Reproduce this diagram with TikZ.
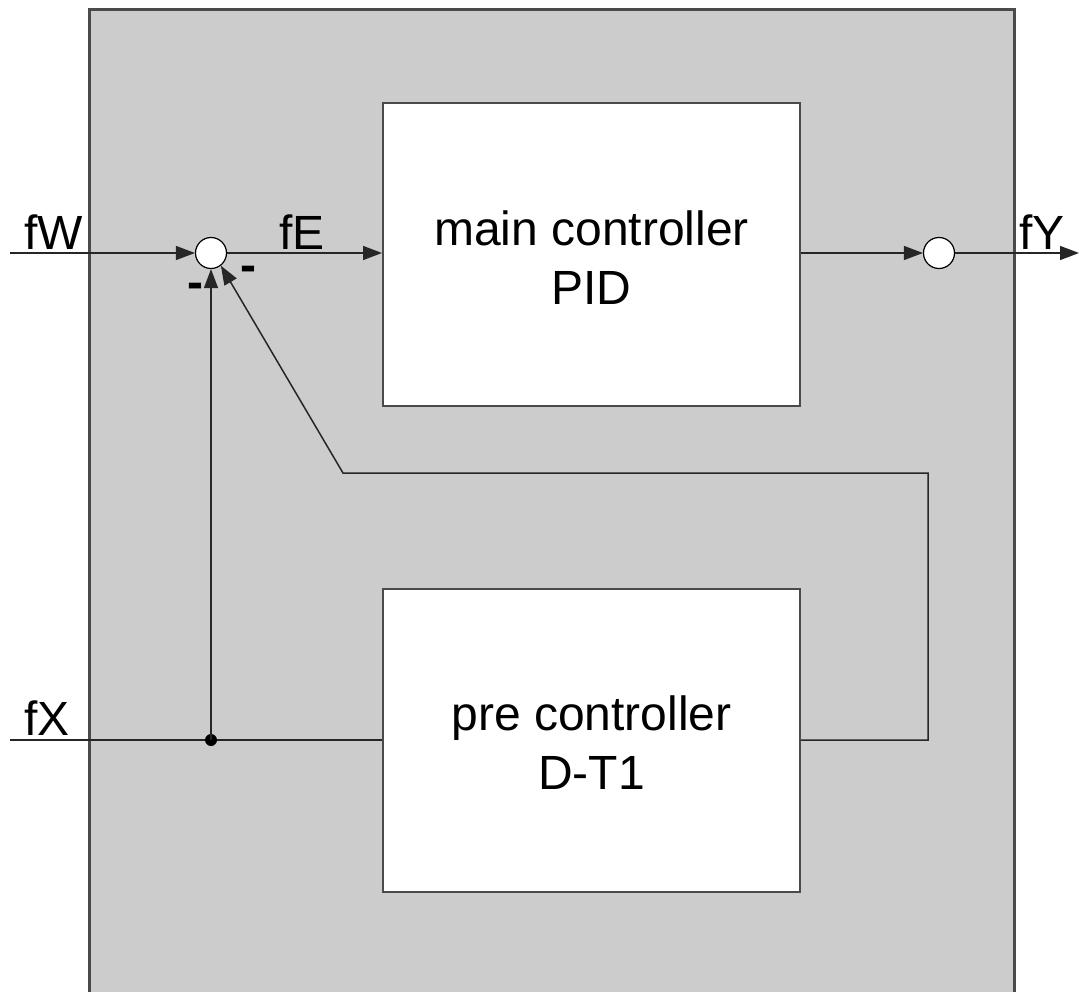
\documentclass[tikz,border=0pt]{standalone}
\usepackage{fontspec}
\setmainfont{Liberation Sans}
\usetikzlibrary{arrows.meta}
\definecolor{panel}{HTML}{CCCCCC}
\definecolor{frame}{HTML}{4A4A4A}
\begin{document}
\begin{tikzpicture}[x=1pt,y=-1pt,
  every node/.style={font=\fontsize{48}{59}\selectfont},
  blockbox/.style={draw=frame,line width=2pt,fill=white,minimum width=417pt,minimum height=303pt,align=center,inner sep=0pt},
  sumnode/.style={circle,draw=black,line width=1.2pt,fill=white,minimum size=31pt,inner sep=0pt},
  wire/.style={line width=1.5pt,draw=black!85},
  arr/.style={wire,-{Triangle[length=19pt,width=14pt]}},
  lbl/.style={inner sep=0pt,anchor=base west},
  minus/.style={inner sep=0pt,font=\fontsize{48}{59}\selectfont\bfseries}]
\useasboundingbox (0,0) rectangle (1079,992);
\fill[white] (0,0) rectangle (1079,992);
\begin{scope}
\clip (0,0) rectangle (1079,992);
\draw[fill=panel,draw=frame,line width=3pt] (89,10) rectangle (1014,1010);
\end{scope}
\node[blockbox] (main) at (591.5,254.5) {};
\node[blockbox] (pre) at (591.5,740) {};
\node[align=center,inner sep=0pt] (maintxt) at (591.5,258) {main controller\\PID};
\node[align=center,inner sep=0pt] (pretxt) at (591.5,743) {pre controller\\D-T1};
\node[sumnode] (sum) at (211,253) {};
\node[sumnode] (out) at (939,253) {};
\coordinate (win) at (10,253);
\coordinate (xin) at (10,740);
\coordinate (yout) at (1079,253);
\coordinate (tap) at (211,740);
\coordinate (fb1) at (928,740);
\coordinate (fb2) at (928,473);
\coordinate (fb3) at (343,473);
\draw[arr] (win) -- (sum.west);
\draw[arr] (sum.east) -- (main.west |- sum.east);
\draw[arr] (main.east |- out.west) -- (out.west);
\draw[arr] (out.east) -- (yout);
\draw[wire] (xin) -- (pre.west |- xin);
\fill[black] (tap) circle (6pt);
\draw[arr] (tap) -- (sum.south);
\draw[arr] (pre.east |- fb1) -- (fb1) -- (fb2) -- (fb3) -- (sum.-52);
\node[lbl] (lW) at (24,250) {fW};
\node[lbl] (lE) at (279,250) {fE};
\node[lbl] (lY) at (1019,250) {fY};
\node[lbl] (lX) at (24,735) {fX};
\node[minus] (m1) at (195,291) {-};
\node[minus] (m2) at (248,274) {-};
\end{tikzpicture}
\end{document}
